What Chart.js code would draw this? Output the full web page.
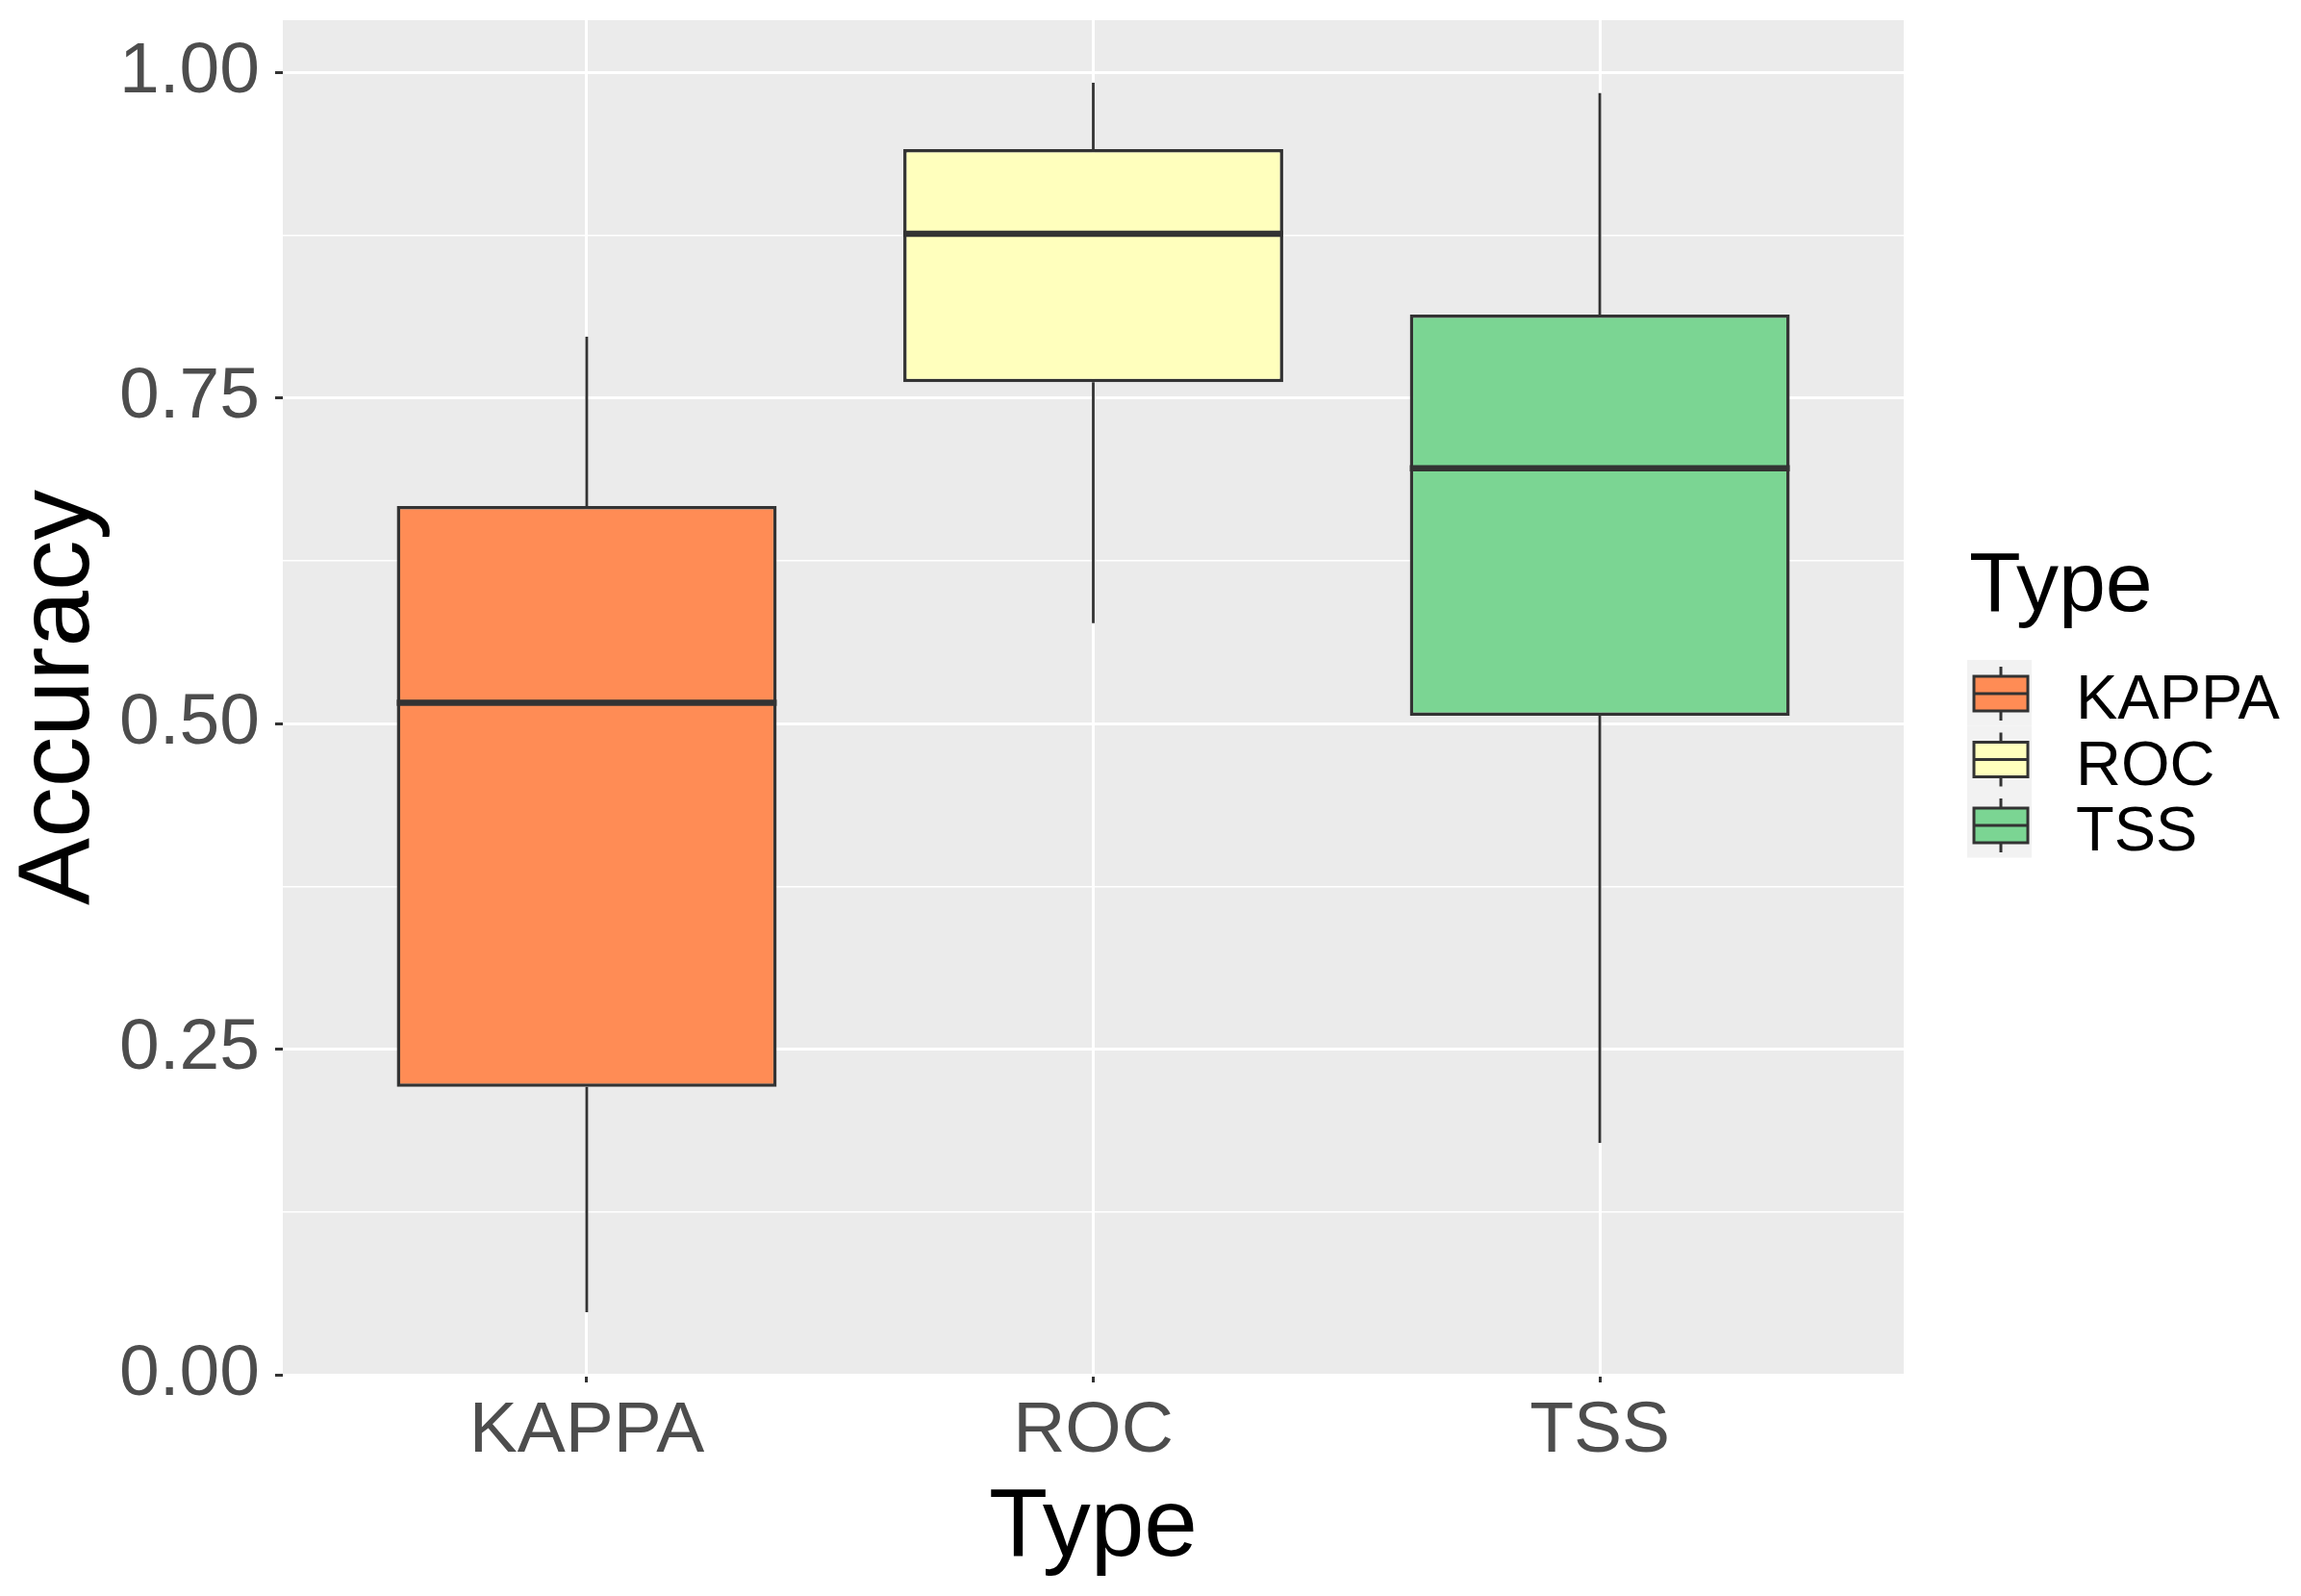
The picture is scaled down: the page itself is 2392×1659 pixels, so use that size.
<!DOCTYPE html>
<html>
<head>
<meta charset="utf-8">
<script src="https://cdn.jsdelivr.net/npm/chart.js@4.4.1/dist/chart.umd.min.js"></script>
<style>
    html, body { margin: 0; padding: 0; background: #ffffff; }
    canvas { display: block; }
</style>
</head>
<body>
<canvas id="boxChart" width="2392" height="1659"></canvas>
<script>

/*
------------------------------------------------------------
데이터
------------------------------------------------------------
*/

const categories = ["KAPPA", "ROC", "TSS"];

const whiskerLow = [0.048, 0.577, 0.178];
const q1 = [0.221, 0.762, 0.506];
const median = [0.516, 0.876, 0.696];
const q3 = [0.667, 0.941, 0.814];
const whiskerHigh = [0.797, 0.992, 0.984];

const fillColors = ["#FF8C55", "#FFFFBD", "#7BD593"];

const yTicks = [0, 0.25, 0.5, 0.75, 1];

const FONT = "'Liberation Sans', Arial, sans-serif";
const LINE = "#333333";

/*
------------------------------------------------------------
패널 배경, 수염, 중앙값, 범례
------------------------------------------------------------
*/

const panelPlugin = {

    id: "panel",

    beforeDraw(chart) {
        const { ctx, chartArea: a } = chart;
        ctx.save();
        ctx.fillStyle = "#EBEBEB";
        ctx.fillRect(a.left, a.top, a.right - a.left, a.bottom - a.top);
        ctx.restore();
    },

    beforeDatasetsDraw(chart) {
        const ctx = chart.ctx;
        const x = chart.scales.x;
        const y = chart.scales.y;
        ctx.save();
        ctx.strokeStyle = LINE;
        ctx.lineWidth = 2.8;
        categories.forEach((c, i) => {
            const px = x.getPixelForValue(i + 1);
            ctx.beginPath();
            ctx.moveTo(px, y.getPixelForValue(whiskerLow[i]));
            ctx.lineTo(px, y.getPixelForValue(q1[i]));
            ctx.moveTo(px, y.getPixelForValue(q3[i]));
            ctx.lineTo(px, y.getPixelForValue(whiskerHigh[i]));
            ctx.stroke();
        });
        ctx.restore();
    },

    afterDatasetsDraw(chart) {
        const ctx = chart.ctx;
        const y = chart.scales.y;
        const bars = chart.getDatasetMeta(0).data;
        ctx.save();
        ctx.strokeStyle = LINE;
        ctx.lineWidth = 6.5;
        bars.forEach((bar, i) => {
            const py = y.getPixelForValue(median[i]);
            ctx.beginPath();
            ctx.moveTo(bar.x - bar.width / 2, py);
            ctx.lineTo(bar.x + bar.width / 2, py);
            ctx.stroke();
        });
        ctx.restore();
    },

    afterDraw(chart) {
        const ctx = chart.ctx;
        const left = chart.chartArea.right + 66;

        ctx.save();
        ctx.fillStyle = "#000000";
        ctx.textBaseline = "alphabetic";
        ctx.font = "88px " + FONT;
        ctx.fillText("Type", left + 2, 635);

        ctx.font = "65px " + FONT;
        categories.forEach((c, i) => {
            const top = 686 + i * 68.5;
            const cy = top + 35;

            ctx.fillStyle = "#F2F2F2";
            ctx.fillRect(left, top, 67, 68.5);

            ctx.strokeStyle = LINE;
            ctx.lineWidth = 3;
            ctx.beginPath();
            ctx.moveTo(left + 35, top + 7);
            ctx.lineTo(left + 35, top + 63);
            ctx.stroke();

            ctx.fillStyle = fillColors[i];
            ctx.fillRect(left + 7, cy - 18, 56, 36);
            ctx.strokeRect(left + 7, cy - 18, 56, 36);
            ctx.beginPath();
            ctx.moveTo(left + 7, cy);
            ctx.lineTo(left + 63, cy);
            ctx.stroke();

            ctx.fillStyle = "#000000";
            ctx.fillText(c, left + 113, top + 61);
        });
        ctx.restore();
    }

};

/*
------------------------------------------------------------
그래프 생성
------------------------------------------------------------
*/

function isMajor(v) {
    return yTicks.some(t => Math.abs(t - v) < 1e-6);
}

function initializeChart() {

    const ctx = document.getElementById("boxChart").getContext("2d");

    new Chart(ctx, {

        type: "bar",

        data: {
            datasets: [
                {
                    label: "Type",
                    data: categories.map((c, i) => ({ x: i + 1, y: [q1[i], q3[i]] })),
                    backgroundColor: fillColors,
                    borderColor: LINE,
                    borderWidth: 3.5,
                    borderSkipped: false,
                    barPercentage: 0.75,
                    categoryPercentage: 1
                }
            ]
        },

        options: {
            responsive: false,
            devicePixelRatio: 1,
            animation: false,
            layout: {
                padding: { top: 21, right: 413, left: 0, bottom: 0 }
            },
            plugins: {
                legend: { display: false },
                tooltip: { enabled: false }
            },
            scales: {
                x: {
                    type: "linear",
                    offset: false,
                    min: 0.4,
                    max: 3.6,
                    afterFit(scale) {
                        scale.height = 230;
                        scale.paddingLeft = 0;
                        scale.paddingRight = 0;
                    },
                    ticks: {
                        stepSize: 1,
                        includeBounds: false,
                        autoSkip: false,
                        maxRotation: 0,
                        padding: 6,
                        color: "#4D4D4D",
                        font: { family: FONT, size: 75 },
                        callback: v => categories[Math.round(v) - 1] || ""
                    },
                    grid: {
                        offset: false,
                        color: "#FFFFFF",
                        lineWidth: 3,
                        tickColor: LINE,
                        tickLength: 8,
                        tickWidth: 3
                    },
                    border: { display: false },
                    title: {
                        display: true,
                        text: "Type",
                        color: "#000000",
                        font: { family: FONT, size: 100 },
                        padding: { top: 0, bottom: 10 }
                    }
                },
                y: {
                    min: 0,
                    max: 1.04,
                    afterFit(scale) {
                        scale.width = 294;
                        scale.paddingTop = 0;
                        scale.paddingBottom = 0;
                    },
                    ticks: {
                        stepSize: 0.125,
                        includeBounds: false,
                        autoSkip: false,
                        padding: 16,
                        color: "#4D4D4D",
                        font: { family: FONT, size: 75 },
                        callback: v => isMajor(v) ? v.toFixed(2) : ""
                    },
                    grid: {
                        color: "#FFFFFF",
                        lineWidth: c => isMajor(c.tick.value) ? 3 : 1.5,
                        tickColor: c => isMajor(c.tick.value) ? LINE : "rgba(0,0,0,0)",
                        tickLength: 8,
                        tickWidth: 3
                    },
                    border: { display: false },
                    title: {
                        display: true,
                        text: "Accuracy",
                        color: "#000000",
                        font: { family: FONT, size: 105 },
                        padding: { top: 0, bottom: 0 }
                    }
                }
            }
        },

        plugins: [panelPlugin]

    });

}

initializeChart();

</script>
</body>
</html>
